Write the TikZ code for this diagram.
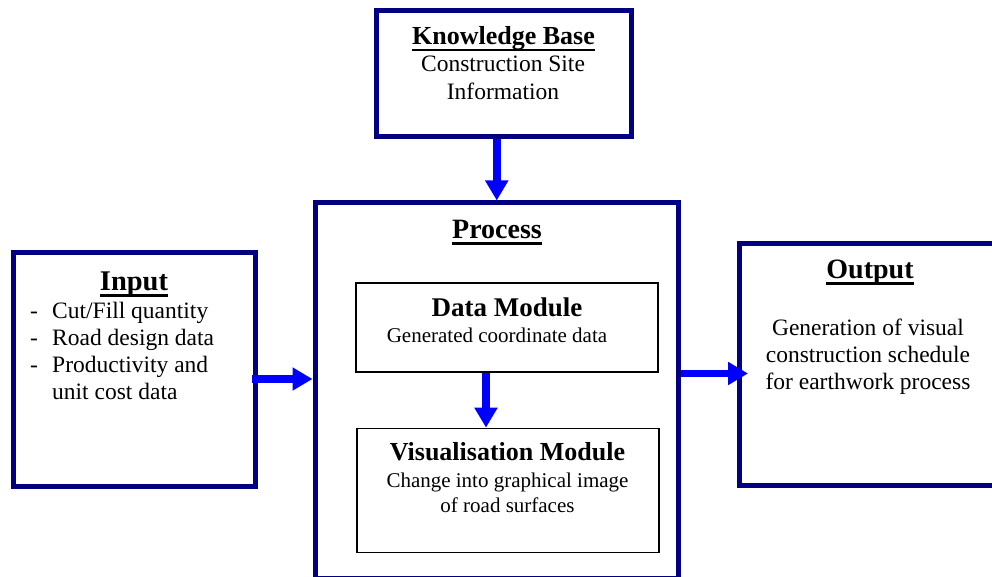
\documentclass[tikz,border=0pt]{standalone}
\usepackage{fontspec}
\setmainfont{Liberation Serif}
\usetikzlibrary{arrows.meta,calc}
\definecolor{boxnavy}{RGB}{0,0,128}
\definecolor{arrblue}{RGB}{0,0,255}
\newcommand{\myul}[1]{\setbox0=\hbox{#1}\rlap{\rule[-6.5pt]{\wd0}{2.6pt}}\box0}
\begin{document}
\begin{tikzpicture}[x=1pt,y=1pt,
  bigbox/.style={draw=boxnavy, line width=5pt, rectangle, inner sep=0pt},
  modbox/.style={draw=black, line width=1.3pt, rectangle, inner sep=0pt},
  arr/.style={draw=arrblue, line width=8pt, -{Triangle[length=20pt,width=22pt]}},
  txt/.style={inner sep=0pt, anchor=base},
  txtl/.style={inner sep=0pt, anchor=base west},
  body/.style={font=\fontsize{23.5}{28}\selectfont},
  sub/.style={font=\fontsize{21}{25}\selectfont},
  head/.style={font=\fontsize{28}{32}\selectfont\bfseries}
]
\useasboundingbox (0,0) rectangle (992,-577);
\clip (0,0) rectangle (992,-577);

% boxes
\node[bigbox, minimum width=254.5pt, minimum height=126pt] (kb) at (503.75,-74) {};
\node[bigbox, minimum width=363.5pt, minimum height=375pt] (process) at (496.75,-390.5) {};
\node[bigbox, minimum width=242.5pt, minimum height=234pt] (input) at (134.25,-369.5) {};
\node[bigbox, minimum width=262pt, minimum height=241.5pt] (output) at (870,-364.25) {};
\node[modbox, minimum width=302pt, minimum height=89pt] (data) at (507,-327.5) {};
\node[modbox, minimum width=302pt, minimum height=124pt] (vis) at (508,-490.3) {};

% knowledge base text
\node[txt, font=\fontsize{26}{30}\selectfont\bfseries] (kbh) at (503.5,-45) {\myul{Knowledge Base}};
\node[txt, body] (kb1) at (503,-72) {Construction Site};
\node[txt, body] (kb2) at (503,-100) {Information};

% process text
\node[txt, head] (ph) at (497,-238.5) {\myul{Process}};
\node[txt, font=\fontsize{27}{31}\selectfont\bfseries] (dh) at (507,-316) {Data Module};
\node[txt, sub] (d1) at (497,-342) {Generated coordinate data};
\node[txt, font=\fontsize{26}{30}\selectfont\bfseries] (vh) at (507.5,-460) {Visualisation Module};
\node[txt, sub] (v1) at (507.5,-487) {Change into graphical image};
\node[txt, sub] (v2) at (507.5,-512) {of road surfaces};

% input text
\node[txt, font=\fontsize{28.5}{32}\selectfont\bfseries] (ih) at (134,-290) {\myul{Input}};
\node[txt, body] (id1) at (34,-318) {-};
\node[txt, body] (id2) at (34,-345) {-};
\node[txt, body] (id3) at (34,-372) {-};
\node[txtl, body] (i1) at (52,-318) {Cut/Fill quantity};
\node[txtl, body] (i2) at (52,-345) {Road design data};
\node[txtl, body] (i3) at (52,-372) {Productivity and};
\node[txtl, body] (i4) at (52,-399) {unit cost data};

% output text
\node[txt, head] (oh) at (870,-278) {\myul{Output}};
\node[txt, body] (o1) at (868,-335) {Generation of visual};
\node[txt, body] (o2) at (868,-362) {construction schedule};
\node[txt, body] (o3) at (868,-389) {for earthwork process};

% connectors
\draw[arr] (process.north |- kb.south) -- (process.north);
\coordinate (inA) at ([xshift=-6pt,yshift=-9.5pt]input.east);
\draw[arr] (inA) -- (inA -| process.west);
\coordinate (pA) at ([yshift=17pt]process.east);
\coordinate (oT) at ([xshift=11.5pt]output.west);
\draw[arr, line width=7pt] (pA) -- (pA -| oT);
\coordinate (dA) at ([xshift=-21pt]data.south);
\draw[arr] (dA) -- (dA |- vis.north);
\end{tikzpicture}
\end{document}
